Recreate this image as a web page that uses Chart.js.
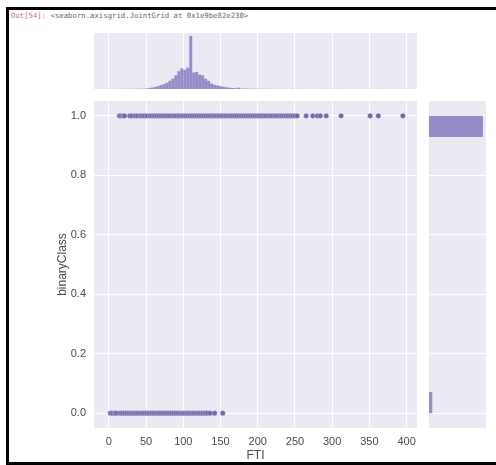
<!DOCTYPE html>
<html><head><meta charset="utf-8">
<script src="https://cdn.jsdelivr.net/npm/chart.js@4"></script>
<style>
body{margin:0;background:#fff;width:496px;height:465px;overflow:hidden;position:relative;font-family:"Liberation Sans",Arial,sans-serif}
#frame{position:absolute;left:6px;top:7px;width:520px;height:452px;border:3px solid #000;border-right:none}
#out{position:absolute;left:11px;top:11px;font:7.3px "DejaVu Sans Mono",monospace;color:#666;white-space:pre}
canvas{position:absolute}
</style></head><body>
<div id="frame"></div>
<div id="out"><span style="color:#e06666">Out[54]:</span> &lt;seaborn.axisgrid.JointGrid at 0x1e9be82e230&gt;</div>
<canvas id="main" width="417" height="364" style="left:0;top:101px"></canvas>
<canvas id="top" width="323" height="56" style="left:94px;top:33px"></canvas>
<canvas id="right" width="57" height="327" style="left:429px;top:101px"></canvas>
<script>
// ---- data ----
const ftiClass1 = [14,16,19,21,28,31,35,38,42,45,48,51,55,58,61,64,67,70,73,76,79,82,85,88,91,94,97,100,103,106,109,112,115,118,121,124,127,130,133,136,139,142,145,148,151,154,157,160,163,166,169,172,175,178,181,184,187,190,193,196,199,202,205,208,211,214,217,220,223,226,229,232,235,238,241,244,247,250,253,265,274,280,284,292,312,351,362,395];
const ftiClass0 = [2,5,8,10,15,18,21,24,27,30,33,36,39,42,45,48,51,54,57,60,63,66,69,72,75,78,81,84,87,90,93,96,99,102,105,108,111,114,117,120,123,126,129,132,136,142,153];
const ftiBinStart = 0, ftiBinWidth = 4;
const ftiCounts = [1,1,0,1,1,1,1,2,1,2,2,3,
  3,8,12,18,25,34,42,55,72,90,120,156,180,168,186,465,144,150,126,120,90,72,48,36,30,24,20,15,12,9,6,12,3,
  4,3,2,3,2,2,1,1,1,1,0,1,1,0,1,0,1,0,1,0,1,0,0,1,0,0,1,0,0,0,1,0,1,0,0,0,0,0,0,0,0,0,0,0,0,0,1,0,0,0,0,0,0,0,1];
const classBinCount = 14;
const classCounts = [210,0,0,0,0,0,0,0,0,0,0,0,0,3481];
const xTicks = [0,50,100,150,200,250,300,350,400];
const yTicks = [0,0.2,0.4,0.6,0.8,1.0];

// ---- styles ----
const BG = '#eaeaf2', GRID = '#ffffff', TXT = '#4a4a4a';
const PT = '#7166b0', BAR = 'rgba(117,104,184,0.72)';
const FONT = {family:'"Liberation Sans", Arial, sans-serif', size:11};
const bgPlugin = {id:'bg', beforeDraw(c){const a=c.chartArea, x=c.ctx; x.save(); x.fillStyle=BG; x.fillRect(a.left,a.top,a.right-a.left,a.bottom-a.top); x.restore();}};
Chart.defaults.animation = false;
Chart.defaults.responsive = false;
Chart.defaults.devicePixelRatio = 1;
Chart.defaults.plugins.legend.display = false;
Chart.defaults.plugins.tooltip.enabled = false;
const setTicks = arr => s => { s.ticks = arr.map(v => ({value:v})); };
const noPad = s => { s.paddingTop = 0; s.paddingBottom = 0; s.paddingLeft = 0; s.paddingRight = 0; };

new Chart(document.getElementById('main'), {
  type:'scatter',
  data:{datasets:[
    {data: ftiClass1.map(v => ({x:v, y:1})), backgroundColor:PT, borderColor:'rgba(255,255,255,0.55)', borderWidth:0.5, pointRadius:2.6, clip:false},
    {data: ftiClass0.map(v => ({x:v, y:0})), backgroundColor:PT, borderColor:'rgba(255,255,255,0.55)', borderWidth:0.5, pointRadius:2.6, clip:false}
  ]},
  options:{
    layout:{padding:0, autoPadding:false},
    scales:{
      x:{type:'linear', min:-20, max:414, afterBuildTicks:setTicks(xTicks),
         grid:{color:GRID, lineWidth:1, drawTicks:false}, border:{display:false},
         ticks:{color:TXT, font:FONT, padding:7, maxRotation:0},
         title:{display:true, text:'FTI', color:TXT, font:{...FONT, size:12}, padding:{top:0,bottom:2}},
         afterFit(s){ s.height = 37; noPad(s); }},
      y:{type:'linear', min:-0.05, max:1.05, afterBuildTicks:setTicks(yTicks),
         grid:{color:GRID, lineWidth:1, drawTicks:false}, border:{display:false},
         ticks:{color:TXT, font:FONT, padding:8, callback:v => v.toFixed(1)},
         title:{display:true, text:'binaryClass', color:TXT, font:{...FONT, size:12}, padding:{top:55,bottom:0}},
         afterFit(s){ s.width = 94; noPad(s); }}
    }
  },
  plugins:[bgPlugin]
});

new Chart(document.getElementById('top'), {
  type:'bar',
  data:{datasets:[{data: ftiCounts.map((c,i) => ({x: ftiBinStart + (i+0.5)*ftiBinWidth, y:c})),
    backgroundColor:BAR, borderWidth:0, inflateAmount:0, barPercentage:1, categoryPercentage:1}]},
  options:{
    layout:{padding:0, autoPadding:false},
    scales:{
      x:{type:'linear', offset:false, min:-20, max:414, afterBuildTicks:setTicks(xTicks),
         grid:{color:GRID, lineWidth:1, drawTicks:false, offset:false}, border:{display:false},
         ticks:{display:false}, afterFit(s){ s.height = 0; noPad(s); }},
      y:{type:'linear', min:0, max:490, display:false}
    }
  },
  plugins:[bgPlugin]
});

new Chart(document.getElementById('right'), {
  type:'bar',
  data:{datasets:[{data: classCounts.map((c,i) => ({y:(i+0.5)/classBinCount, x:c})),
    backgroundColor:BAR, borderWidth:0, inflateAmount:0, barPercentage:1, categoryPercentage:1}]},
  options:{
    indexAxis:'y',
    layout:{padding:0, autoPadding:false},
    scales:{
      y:{type:'linear', offset:false, min:-0.05, max:1.05, afterBuildTicks:setTicks(yTicks),
         grid:{color:GRID, lineWidth:1, drawTicks:false, offset:false}, border:{display:false},
         ticks:{display:false}, afterFit(s){ s.width = 0; noPad(s); }},
      x:{type:'linear', min:0, max:3680, display:false}
    }
  },
  plugins:[bgPlugin]
});
</script>
</body></html>
